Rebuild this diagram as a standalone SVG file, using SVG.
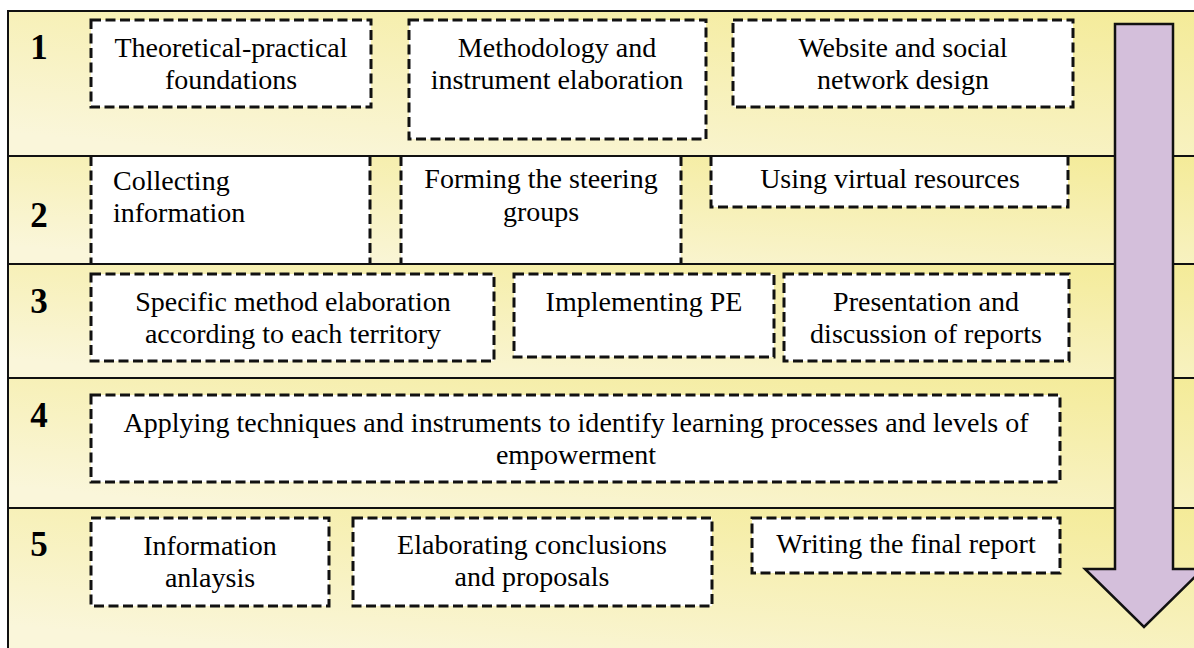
<svg xmlns="http://www.w3.org/2000/svg" width="1194" height="648" viewBox="0 0 1194 648">
  <defs>
    <linearGradient id="rowBg" x1="1" y1="0" x2="0.2" y2="1">
      <stop offset="0" stop-color="#F4EB98"/>
      <stop offset="1" stop-color="#FAF6DA"/>
    </linearGradient>
    <style>
      .row { fill: url(#rowBg); }
      .sep { stroke: #111; stroke-width: 2; fill: none; }
      .box { fill: #FFFFFF; stroke: #111; stroke-width: 3; stroke-dasharray: 10 4.5; }
      .fillonly { fill: #FFFFFF; stroke: none; }
      .edge { fill: none; stroke: #111; stroke-width: 3; stroke-dasharray: 10 4.5; }
      .txt { font-family: "Liberation Serif", "Times New Roman", serif; font-size: 28px; fill: #000; }
      .c { text-anchor: middle; }
      .num { font-family: "Liberation Serif", "Times New Roman", serif; font-size: 35px; font-weight: bold; fill: #000; text-anchor: middle; }
      .arrow { fill: #D4BFDB; stroke: #111; stroke-width: 2.5; stroke-linejoin: miter; }
    </style>
  </defs>

  <rect x="0" y="0" width="1194" height="648" fill="#FFFFFF"/>

  <g id="backgrounds">
    <rect class="row" x="8" y="11" width="1186" height="145"/>
    <rect class="row" x="8" y="156" width="1186" height="108"/>
    <rect class="row" x="8" y="264" width="1186" height="114"/>
    <rect class="row" x="8" y="378" width="1186" height="130"/>
    <rect class="row" x="8" y="508" width="1186" height="140"/>
  </g>

  <g id="row-numbers">
    <text class="num" x="39" y="59">1</text>
    <text class="num" x="39" y="227">2</text>
    <text class="num" x="39" y="313">3</text>
    <text class="num" x="39" y="427">4</text>
    <text class="num" x="39" y="556">5</text>
  </g>

  <g id="n1-foundations">
    <rect class="box" x="91" y="20" width="280" height="87"/>
    <text class="txt c" x="231" y="57">Theoretical-practical</text>
    <text class="txt c" x="231" y="89">foundations</text>
  </g>
  <g id="n1-methodology">
    <rect class="box" x="409" y="20" width="297" height="119"/>
    <text class="txt c" x="557" y="57">Methodology and</text>
    <text class="txt c" x="557" y="89">instrument elaboration</text>
  </g>
  <g id="n1-website">
    <rect class="box" x="733" y="20" width="340" height="87"/>
    <text class="txt c" x="903" y="57">Website and social</text>
    <text class="txt c" x="903" y="89">network design</text>
  </g>

  <g id="n2-collecting">
    <rect class="fillonly" x="91" y="156" width="279" height="108"/>
    <path class="edge" d="M91,156 V264 M370,156 V264"/>
    <text class="txt" x="113" y="190">Collecting</text>
    <text class="txt" x="113" y="222">information</text>
  </g>
  <g id="n2-steering">
    <rect class="fillonly" x="401" y="156" width="280" height="108"/>
    <path class="edge" d="M401,156 V264 M681,156 V264"/>
    <text class="txt c" x="541" y="188">Forming the steering</text>
    <text class="txt c" x="541" y="221">groups</text>
  </g>
  <g id="n2-virtual">
    <rect class="fillonly" x="711" y="156" width="357" height="51"/>
    <path class="edge" d="M711,156 V207 H1068 V156"/>
    <text class="txt c" x="890" y="188">Using virtual resources</text>
  </g>

  <g id="n3-specific">
    <rect class="box" x="91" y="274" width="403" height="87"/>
    <text class="txt c" x="293" y="311">Specific method elaboration</text>
    <text class="txt c" x="293" y="343">according to each territory</text>
  </g>
  <g id="n3-implementing">
    <rect class="box" x="514" y="274" width="260" height="83"/>
    <text class="txt c" x="644" y="311">Implementing PE</text>
  </g>
  <g id="n3-presentation">
    <rect class="box" x="784" y="274" width="285" height="87"/>
    <text class="txt c" x="926" y="311">Presentation and</text>
    <text class="txt c" x="926" y="343">discussion of reports</text>
  </g>

  <g id="n4-applying">
    <rect class="box" x="91" y="395" width="969" height="87"/>
    <text class="txt c" x="576" y="432" textLength="905" lengthAdjust="spacing">Applying techniques and instruments to identify learning processes and levels of</text>
    <text class="txt c" x="576" y="464">empowerment</text>
  </g>

  <g id="n5-analysis">
    <rect class="box" x="91" y="518" width="238" height="88"/>
    <text class="txt c" x="210" y="555">Information</text>
    <text class="txt c" x="210" y="587">anlaysis</text>
  </g>
  <g id="n5-conclusions">
    <rect class="box" x="353" y="518" width="359" height="88"/>
    <text class="txt c" x="532" y="554">Elaborating conclusions</text>
    <text class="txt c" x="532" y="586">and proposals</text>
  </g>
  <g id="n5-final">
    <rect class="box" x="752" y="518" width="308" height="55"/>
    <text class="txt c" x="906" y="553">Writing the final report</text>
  </g>

  <g id="frame">
    <line class="sep" x1="7" y1="11" x2="1194" y2="11"/>
    <line class="sep" x1="8" y1="10" x2="8" y2="648"/>
    <line class="sep" x1="8" y1="156" x2="1194" y2="156"/>
    <line class="sep" x1="8" y1="264" x2="1194" y2="264"/>
    <line class="sep" x1="8" y1="378" x2="1194" y2="378"/>
    <line class="sep" x1="8" y1="508" x2="1194" y2="508"/>
  </g>

  <g id="connectors">
    <path id="flow-arrow" class="arrow" d="M1115,24 L1173,24 L1173,569 L1203,569 L1144,627 L1085,569 L1115,569 Z"/>
  </g>
</svg>
